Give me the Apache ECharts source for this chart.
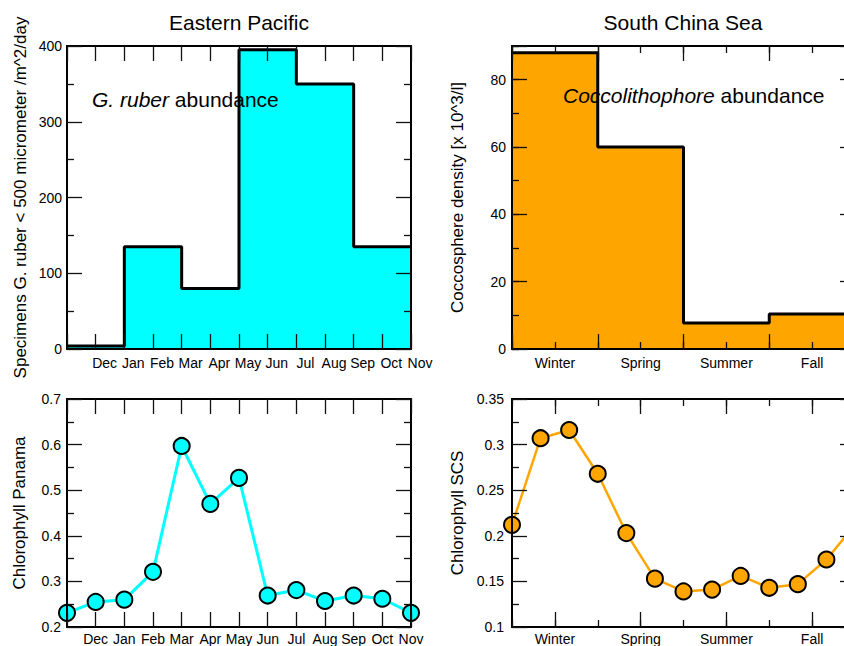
<!DOCTYPE html>
<html><head><meta charset="utf-8">
<script src="https://cdn.jsdelivr.net/npm/echarts@6/dist/echarts.min.js"></script>
<style>html,body{margin:0;padding:0;background:#fff}#c{width:844px;height:646px}</style>
</head><body><div id="c"></div>
<script>
// ---- data ----
const monthEdges = [0, 2, 4, 6, 8, 10, 12];
const gruberValues = [4, 135, 80, 395, 350, 135];
const seasonEdges = [0, 2, 4, 6, 8];
const coccoValues = [88, 60, 7.7, 10.4];
const chlPanama = [0.231, 0.255, 0.260, 0.321, 0.597, 0.470, 0.527, 0.269, 0.281, 0.257, 0.269, 0.262, 0.231];
const chlSCS = [0.212, 0.307, 0.316, 0.268, 0.203, 0.153, 0.139, 0.141, 0.156, 0.143, 0.147, 0.174, 0.212];
const monthLabels = ['Dec', 'Jan', 'Feb', 'Mar', 'Apr', 'May', 'Jun', 'Jul', 'Aug', 'Sep', 'Oct', 'Nov'];
const seasonLabels = ['Winter', 'Spring', 'Summer', 'Fall'];
const seasonLabelPos = [1, 3, 5, 7];

const FONT = '"Liberation Sans", Arial, Helvetica, sans-serif';
const CYAN = '#00FFFF', ORANGE = '#FFA500';

const xAxes = [], yAxes = [];
function ax(list, o) {
  const a = {
    type: 'value', gridIndex: o.grid, position: o.pos, min: o.min, max: o.max, interval: o.interval,
    z: 10,
    axisLine: { show: o.line !== false, onZero: false, lineStyle: { color: '#000', width: 2 } },
    axisTick: { show: o.tick !== false, inside: true, length: o.tickLen || 15, lineStyle: { color: '#111', width: 1.3 } },
    minorTick: { show: !!o.minor, splitNumber: o.minor || 5, length: 7, lineStyle: { color: '#111', width: 1.3 } },
    splitLine: { show: false },
    axisLabel: o.label ? Object.assign({
      show: true, color: '#000', fontSize: 14, fontFamily: FONT, showMinLabel: true, showMaxLabel: true
    }, o.label) : { show: false }
  };
  if (o.tickValues) a.axisTick.customValues = o.tickValues;
  if (o.name) {
    a.name = o.name; a.nameLocation = 'middle'; a.nameGap = o.nameGap;
    a.nameTextStyle = { fontSize: 17, fontFamily: FONT, color: '#000' };
  }
  list.push(a);
  return list.length - 1;
}

const gridBase = { outerBoundsMode: 'none', containLabel: false };
const grids = [
  Object.assign({ left: 67, top: 46, width: 344, height: 303 }, gridBase),
  Object.assign({ left: 512, top: 46, width: 343, height: 303 }, gridBase),
  Object.assign({ left: 67, top: 399, width: 344, height: 228 }, gridBase),
  Object.assign({ left: 512, top: 399, width: 343, height: 228 }, gridBase)
];

// Grid 0: Eastern Pacific G. ruber
const g0x = ax(xAxes, { grid: 0, pos: 'bottom', min: 0, max: 12, interval: 1,
  label: { margin: 7, padding: [0, 0, 0, 18], formatter: v => v >= 1 ? monthLabels[v - 1] : '' } });
ax(xAxes, { grid: 0, pos: 'top', min: 0, max: 12, interval: 1 });
const g0y = ax(yAxes, { grid: 0, pos: 'left', min: 0, max: 400, interval: 100, minor: 2,
  label: { margin: 5 }, name: 'Specimens G. ruber < 500 micrometer /m^2/day', nameGap: 38 });
ax(yAxes, { grid: 0, pos: 'right', min: 0, max: 400, interval: 100, minor: 2 });

// Grid 1: South China Sea coccolithophore
const g1x = ax(xAxes, { grid: 1, pos: 'bottom', min: 0, max: 8, interval: 1, tickLen: 7,
  label: { margin: 7, formatter: v => { const k = seasonLabelPos.indexOf(v); return k >= 0 ? seasonLabels[k] : ''; } } });
ax(xAxes, { grid: 1, pos: 'bottom', min: 0, max: 8, interval: 2, line: false });
ax(xAxes, { grid: 1, pos: 'top', min: 0, max: 8, interval: 1, tickLen: 7 });
ax(xAxes, { grid: 1, pos: 'top', min: 0, max: 8, interval: 2, line: false });
const g1y = ax(yAxes, { grid: 1, pos: 'left', min: 0, max: 90, interval: 10, tickLen: 7,
  label: { margin: 6, formatter: v => (v % 20 === 0 ? String(v) : '') },
  name: 'Coccosphere density [x 10^3/l]', nameGap: 46 });
ax(yAxes, { grid: 1, pos: 'left', min: 0, max: 90, interval: 20, line: false });
ax(yAxes, { grid: 1, pos: 'right', min: 0, max: 90, interval: 10, tickLen: 7 });
ax(yAxes, { grid: 1, pos: 'right', min: 0, max: 90, interval: 20, line: false });

// Grid 2: Chlorophyll Panama
const g2x = ax(xAxes, { grid: 2, pos: 'bottom', min: 0, max: 12, interval: 1,
  label: { margin: 5, formatter: v => v >= 1 ? monthLabels[v - 1] : '' } });
ax(xAxes, { grid: 2, pos: 'top', min: 0, max: 12, interval: 1 });
const g2y = ax(yAxes, { grid: 2, pos: 'left', min: 0.2, max: 0.7, interval: 0.1, minor: 2,
  label: { margin: 6 }, name: 'Chlorophyll Panama', nameGap: 39 });
ax(yAxes, { grid: 2, pos: 'right', min: 0.2, max: 0.7, interval: 0.1, minor: 2 });

// Grid 3: Chlorophyll SCS
ax(xAxes, { grid: 3, pos: 'bottom', min: 0, max: 8, interval: 1, tickLen: 7,
  label: { margin: 5, formatter: v => { const k = seasonLabelPos.indexOf(v); return k >= 0 ? seasonLabels[k] : ''; } } });
ax(xAxes, { grid: 3, pos: 'bottom', min: 0, max: 8, interval: 1, line: false, tickValues: seasonLabelPos });
ax(xAxes, { grid: 3, pos: 'top', min: 0, max: 8, interval: 1, tickLen: 7 });
ax(xAxes, { grid: 3, pos: 'top', min: 0, max: 8, interval: 1, line: false, tickValues: seasonLabelPos });
const g3xm = ax(xAxes, { grid: 3, pos: 'bottom', min: 0, max: 12, interval: 1, line: false, tick: false });
const g3y = ax(yAxes, { grid: 3, pos: 'left', min: 0.1, max: 0.35, interval: 0.05, minor: 2,
  label: { margin: 8 }, name: 'Chlorophyll SCS', nameGap: 46 });
ax(yAxes, { grid: 3, pos: 'right', min: 0.1, max: 0.35, interval: 0.05, minor: 2 });

function stepData(edges, vals) {
  return edges.map((e, i) => [e, vals[Math.min(i, vals.length - 1)]]);
}

const series = [
  { type: 'line', xAxisIndex: g0x, yAxisIndex: g0y, step: 'end', symbol: 'none',
    data: stepData(monthEdges, gruberValues),
    lineStyle: { color: '#000', width: 3 }, areaStyle: { color: CYAN, opacity: 1 } },
  { type: 'line', xAxisIndex: g1x, yAxisIndex: g1y, step: 'end', symbol: 'none',
    data: stepData(seasonEdges, coccoValues),
    lineStyle: { color: '#000', width: 3 }, areaStyle: { color: ORANGE, opacity: 1 } },
  { type: 'line', xAxisIndex: g2x, yAxisIndex: g2y, symbol: 'circle', symbolSize: 16,
    data: chlPanama.map((v, i) => [i, v]),
    lineStyle: { color: CYAN, width: 3 },
    itemStyle: { color: CYAN, borderColor: '#000', borderWidth: 2 } },
  { type: 'line', xAxisIndex: g3xm, yAxisIndex: g3y, symbol: 'circle', symbolSize: 16,
    data: chlSCS.map((v, i) => [i, v]),
    lineStyle: { color: ORANGE, width: 2.5 },
    itemStyle: { color: ORANGE, borderColor: '#000', borderWidth: 2 } }
];

const titleStyle = { fontSize: 21, fontWeight: 'normal', fontFamily: FONT, color: '#000' };
const rich = {
  it: { fontStyle: 'italic', fontSize: 21, fontFamily: FONT, fill: '#000', color: '#000' },
  n: { fontSize: 21, fontFamily: FONT, fill: '#000', color: '#000' }
};

const chart = echarts.init(document.getElementById('c'), null, { renderer: 'svg' });
chart.setOption({
  animation: false,
  backgroundColor: '#fff',
  title: [
    { text: 'Eastern Pacific', left: 239, top: 12, textAlign: 'center', padding: 0, textStyle: titleStyle },
    { text: 'South China Sea', left: 683, top: 12, textAlign: 'center', padding: 0, textStyle: titleStyle }
  ],
  grid: grids,
  xAxis: xAxes,
  yAxis: yAxes,
  series: series,
  graphic: [
    { type: 'text', x: 92, y: 99, z: 100,
      style: { text: '{it|G. ruber }{n|abundance}', rich: rich, fontSize: 21, fontFamily: FONT, fill: '#000',
        verticalAlign: 'middle', textVerticalAlign: 'middle' } },
    { type: 'text', x: 563, y: 95, z: 100,
      style: { text: '{it|Coccolithophore }{n|abundance}', rich: rich, fontSize: 21, fontFamily: FONT, fill: '#000',
        verticalAlign: 'middle', textVerticalAlign: 'middle' } }
  ]
});
</script></body></html>
